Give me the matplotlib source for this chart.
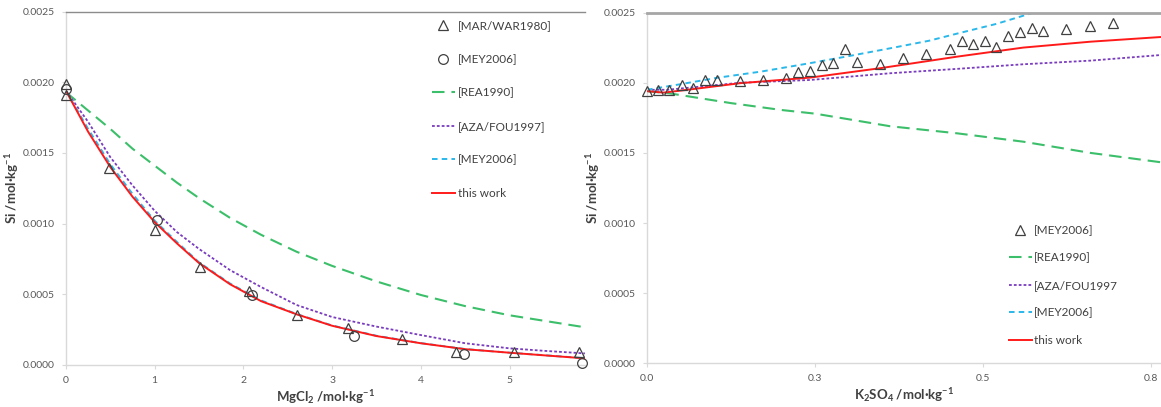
import numpy as np
import matplotlib
matplotlib.use('Agg')
import matplotlib.pyplot as plt

# ── Data: Si solubility vs. MgCl2 ────────────────────────────────────────────
mg_mar_x = [0.0, 0.0, 0.49, 1.0, 1.515, 2.063, 2.61, 3.18, 3.79, 4.40, 5.05, 5.78]
mg_mar_y = [0.001988, 0.00191, 0.00139, 0.000951, 0.000693, 0.000522, 0.000352,
            0.000262, 0.00018, 0.000092, 0.000092, 0.000092]
mg_mey_x = [0.0, 1.03, 2.10, 3.25, 4.49, 5.82]
mg_mey_y = [0.00195, 0.001026, 0.000496, 0.000203, 0.000076, 0.00001]

mg_curve_x = [0.0, 0.25, 0.5, 0.75, 1.0, 1.25, 1.5, 1.85, 2.2, 2.6, 3.0, 3.5,
              4.0, 4.5, 5.0, 5.4, 5.85]
mg_rea = [0.00193, 0.00180, 0.00167, 0.00153, 0.00141, 0.00129, 0.00118, 0.00104,
          0.00092, 0.00080, 0.00070, 0.00059, 0.000494, 0.000415, 0.00035,
          0.00031, 0.000265]
mg_aza = [0.00194, 0.00172, 0.00147, 0.00127, 0.00109, 0.00094, 0.00082, 0.00067,
          0.00055, 0.000423, 0.000338, 0.00027, 0.00021, 0.000152, 0.000116,
          0.000098, 0.00008]
mg_mey = [0.00194, 0.00167, 0.00142, 0.00121, 0.00102, 0.00087, 0.000725, 0.000575,
          0.000455, 0.000359, 0.000278, 0.000205, 0.000153, 0.000111, 0.000085,
          0.000067, 0.000046]
mg_this = [0.00194, 0.00165, 0.00140, 0.00119, 0.00101, 0.00086, 0.00072, 0.00057,
           0.00045, 0.000357, 0.000276, 0.000203, 0.000152, 0.00011, 0.000085,
           0.000066, 0.000045]

# ── Data: Si solubility vs. K2SO4 ────────────────────────────────────────────
k_mey_x = [0.0, 0.0168, 0.0332, 0.0517, 0.0689, 0.0864, 0.1047, 0.1385, 0.1732,
           0.207, 0.2253, 0.2427, 0.2601, 0.2774, 0.2948, 0.3122, 0.3469, 0.3807,
           0.4154, 0.4512, 0.4686, 0.4859, 0.5033, 0.5197, 0.5371, 0.5544, 0.5728,
           0.5892, 0.6239, 0.6586, 0.6943]
k_mey_y = [0.001944, 0.001949, 0.001949, 0.001982, 0.001961, 0.00202, 0.00202,
           0.002013, 0.00202, 0.002036, 0.002077, 0.002086, 0.002127, 0.002143,
           0.002241, 0.002148, 0.002132, 0.002175, 0.002205, 0.002239, 0.002296,
           0.002275, 0.002298, 0.002258, 0.002332, 0.00236, 0.002393, 0.00237,
           0.002382, 0.002405, 0.002427]

k_rea_x = [0.0, 0.033, 0.125, 0.2, 0.25, 0.3, 0.362, 0.461, 0.56, 0.66, 0.77]
k_rea_y = [0.00194, 0.001925, 0.001855, 0.001806, 0.00178, 0.00174, 0.00169,
           0.00164, 0.00158, 0.00150, 0.00143]
k_aza_x = [0.0, 0.03, 0.1385, 0.2427, 0.362, 0.461, 0.56, 0.66, 0.77]
k_aza_y = [0.00195, 0.00195, 0.002, 0.00202, 0.002068, 0.002099, 0.002132,
           0.002158, 0.0022]
k_mey_line_x = [0.0, 0.05, 0.105, 0.17, 0.2427, 0.3, 0.362, 0.42, 0.461, 0.52,
                0.575, 0.62]
k_mey_line_y = [0.00195, 0.00199, 0.002036, 0.00208, 0.00214, 0.00219, 0.002246,
                0.0023, 0.00235, 0.00242, 0.0025, 0.00256]
k_this_x = [0.0, 0.025, 0.06, 0.1385, 0.2427, 0.347, 0.461, 0.56, 0.66, 0.77]
k_this_y = [0.00194, 0.00193, 0.00195, 0.001997, 0.002037, 0.002104, 0.002186,
            0.002251, 0.002293, 0.002328]

mg_ticks = [0, 1, 2, 3, 4, 5]
k_ticks = [0.0, 0.25, 0.5, 0.75]
k_tick_labels = ['0.0', '0.3', '0.5', '0.8']
y_ticks = [0.0, 0.0005, 0.0010, 0.0015, 0.0020, 0.0025]

# ── Styling ──────────────────────────────────────────────────────────────────
plt.rcParams['font.family'] = ['Lato', 'DejaVu Sans']
plt.rcParams['mathtext.fontset'] = 'custom'
plt.rcParams['mathtext.rm'] = 'Lato'
plt.rcParams['mathtext.bf'] = 'Lato:bold'
plt.rcParams['lines.scale_dashes'] = False

GREEN = '#3cbf6a'
PURPLE = '#7a3cbf'
CYAN = '#2ab8ea'
RED = '#ff1a1a'
MARK = '#404040'
TICK_TXT = '#595959'
AXIS_LINE = '#d9d9d9'

fig = plt.figure(figsize=(11.61, 4.07), dpi=100)
ax1 = fig.add_axes([0.0568, 0.1039, 0.447, 0.8673])
ax2 = fig.add_axes([0.5573, 0.1074, 0.4427, 0.8615])


def style_axes(ax, top_color, top_lw):
    ax.set_ylim(0, 0.0025)
    ax.set_yticks(y_ticks)
    ax.set_yticklabels([f'{v:.4f}' for v in y_ticks])
    for side in ('left', 'bottom'):
        ax.spines[side].set_color(AXIS_LINE)
        ax.spines[side].set_linewidth(1.0)
    ax.spines['right'].set_visible(False)
    ax.spines['top'].set_color(top_color)
    ax.spines['top'].set_linewidth(top_lw)
    ax.tick_params(direction='out', length=3, width=0.8, color=AXIS_LINE,
                   labelcolor=TICK_TXT, labelsize=7.5, pad=5)
    ax.tick_params(top=False, right=False)


marker_kw = dict(linestyle='none', markerfacecolor='none', markeredgecolor=MARK,
                 markeredgewidth=0.9, markersize=7, clip_on=False, zorder=5)
label_kw = dict(fontsize=9.5, fontweight='bold', color='#404040')

# left panel: MgCl2
ax1.plot(mg_mar_x, mg_mar_y, marker='^', label='[MAR/WAR1980]', **marker_kw)
ax1.plot(mg_mey_x, mg_mey_y, marker='o', label='[MEY2006]', **marker_kw)
ax1.plot(mg_curve_x, mg_rea, color=GREEN, lw=1.5, dashes=(9, 5), label='[REA1990]')
ax1.plot(mg_curve_x, mg_aza, color=PURPLE, lw=1.3, dashes=(2, 1.5), label='[AZA/FOU1997]')
ax1.plot(mg_curve_x, mg_mey, color=CYAN, lw=1.4, dashes=(4, 3), label='[MEY2006]')
ax1.plot(mg_curve_x, mg_this, color=RED, lw=1.4, label='this work', zorder=4)
ax1.set_xlim(0, 5.85)
ax1.set_xticks(mg_ticks)
style_axes(ax1, '#8c8c8c', 1.0)
ax1.set_xlabel(r'MgCl$_\mathbf{2}$ /mol·kg$^\mathbf{-1}$', labelpad=2, **label_kw)
ax1.set_ylabel(r'Si /mol·kg$^\mathbf{-1}$', labelpad=1, **label_kw)
ax1.legend(loc='upper left', bbox_to_anchor=(0.705, 0.975), frameon=False,
           fontsize=8.5, labelcolor='#404040', numpoints=1, borderpad=0,
           borderaxespad=0, handlelength=1.95, handletextpad=0.25,
           labelspacing=1.9)

# right panel: K2SO4
ax2.plot(k_mey_x, k_mey_y, marker='^', label='[MEY2006]', **marker_kw)
ax2.plot(k_rea_x, k_rea_y, color=GREEN, lw=1.5, dashes=(9, 5), label='[REA1990]')
ax2.plot(k_aza_x, k_aza_y, color=PURPLE, lw=1.3, dashes=(2, 1.5), label='[AZA/FOU1997')
ax2.plot(k_mey_line_x, k_mey_line_y, color=CYAN, lw=1.4, dashes=(4, 3), label='[MEY2006]')
ax2.plot(k_this_x, k_this_y, color=RED, lw=1.4, label='this work', zorder=4)
ax2.set_xlim(0, 0.765)
ax2.set_xticks(k_ticks)
ax2.set_xticklabels(k_tick_labels)
style_axes(ax2, '#a6a6a6', 2.0)
ax2.set_xlabel(r'K$_\mathbf{2}$SO$_\mathbf{4}$ /mol·kg$^\mathbf{-1}$', labelpad=2, **label_kw)
ax2.set_ylabel(r'Si /mol·kg$^\mathbf{-1}$', labelpad=1, **label_kw)
ax2.legend(loc='upper left', bbox_to_anchor=(0.704, 0.395), frameon=False,
           fontsize=8.5, labelcolor='#404040', numpoints=1, borderpad=0,
           borderaxespad=0, handlelength=1.95, handletextpad=0.2,
           labelspacing=1.4)

fig.savefig('out.png', dpi=100, facecolor='white')
